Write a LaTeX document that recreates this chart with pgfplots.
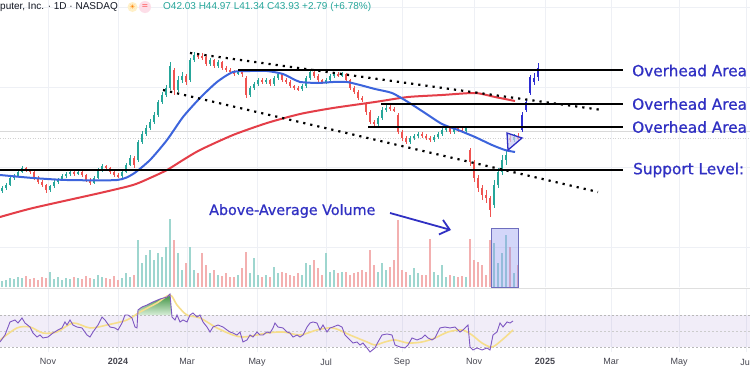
\documentclass[border=0pt]{standalone}
\usepackage{fontspec}
\setmainfont{Liberation Sans}
\newfontfamily\djv{DejaVu Sans}
\newfontfamily\annfont[FakeBold=0.8]{DejaVu Sans}
\usepackage{pgfplots}
\pgfplotsset{compat=1.18}
\usepackage{pgfplotstable}
\usetikzlibrary{arrows.meta}

\definecolor{upc}{RGB}{38,166,154}
\definecolor{dnc}{RGB}{239,83,80}
\definecolor{upv}{RGB}{158,214,207}
\definecolor{dnv}{RGB}{243,176,176}
\definecolor{projc}{RGB}{45,45,210}
\definecolor{mafast}{RGB}{60,100,220}
\definecolor{maslow}{RGB}{228,62,72}
\definecolor{anno}{RGB}{48,48,195}
\definecolor{rsic}{RGB}{126,87,194}
\definecolor{rsima}{RGB}{246,222,140}
\definecolor{gridc}{RGB}{238,240,245}
\definecolor{hdr}{RGB}{19,23,34}
\definecolor{sunbg}{RGB}{255,240,200}
\definecolor{pinkbg}{RGB}{253,222,232}
\definecolor{boxfill}{RGB}{130,140,240}
\definecolor{boxdraw}{RGB}{110,110,190}
\definecolor{trifill}{RGB}{205,205,245}
\definecolor{ticklab}{RGB}{70,70,80}
\definecolor{band}{RGB}{126,87,194}
\definecolor{greentop}{RGB}{56,142,60}
\definecolor{greenbot}{RGB}{215,238,215}

% up candles: x open high low close volume(M)
\pgfplotstableread{
x o h l c v
2 19.3 20.3 18.9 19.9 3
6 19.9 20.9 19.5 20.5 3.5
10 20.5 22.3 20.3 21.9 4.5
14 21.9 22.7 21.5 22.3 4
18 22.3 23.5 22.1 23.1 5
22 23.1 24.3 22.9 23.9 4.5
50 19.5 20.5 19.1 20.3 7.5
54 20.3 21.5 19.9 21.1 4
58 21.1 21.9 20.7 21.5 5
62 21.5 22.7 21.3 22.3 3.5
66 22.3 23.1 21.9 22.7 4.5
70 22.7 23.5 22.3 23.1 4
78 22.7 23.5 22.5 23.1 4.5
94 20.9 22.3 20.7 21.9 4
98 21.9 23.9 21.7 23.5 6
102 23.5 24.7 23.1 24.3 5
122 22.3 23.5 21.9 23.1 4.5
126 23.1 24.9 22.9 24.5 7
130 24.5 26.5 24.3 25.9 5
138 25.5 29.5 25.1 29.1 23.5
142 29.1 31.3 28.7 30.7 12
146 30.7 32.5 30.3 31.9 16
150 31.9 33.7 31.5 33.1 18.5
154 33.1 35.1 32.7 34.5 13.5
158 34.5 37.5 34.1 37.1 17
162 37.1 39.1 36.7 38.5 15
166 38.5 40.5 38.1 39.9 20
170 39.9 45.1 39.5 44.3 34
178 39.5 42.3 39.1 41.5 17
182 41.5 43.1 40.9 42.3 8.5
190 41.5 45.9 41.1 45.5 20
194 45.5 47.1 45.1 46.5 8.5
210 44.7 45.9 44.3 45.5 7
218 44.3 45.5 43.9 45.1 6
238 42.7 43.5 42.5 43.1 6
250 38.5 40.3 38.1 39.9 7
254 39.9 41.1 39.5 40.7 14.5
258 40.7 41.9 40.3 41.5 6
266 41.1 41.9 40.7 41.5 6
274 40.7 42.3 40.3 41.9 10
278 41.9 43.1 41.5 42.7 7
302 39.7 40.7 39.3 40.3 6
306 40.3 42.3 39.9 41.9 12
310 41.9 43.5 41.5 43.1 11
326 41.1 41.9 40.7 41.5 17
330 41.5 42.7 41.1 42.3 7.5
334 42.3 43.1 41.9 42.7 8.5
342 42.5 43.1 42.1 42.7 7.5
378 32.7 34.3 32.3 33.9 7.5
382 33.9 36.1 33.5 35.5 12
386 35.5 36.5 35.1 35.9 8.5
410 29.1 30.3 28.7 29.9 6
414 29.9 30.7 29.5 30.3 9.5
418 30.3 31.1 29.9 30.7 7
434 29.5 30.5 29.1 30.1 7.5
438 30.1 31.1 29.7 30.7 6
442 30.7 31.9 30.3 31.5 11
446 31.5 32.3 31.1 31.9 5
454 31.1 32.3 30.7 31.9 5.5
466 31.3 32.3 30.9 31.9 5
494 16.5 21.5 15.9 20.5 22
498 20.5 23.9 19.9 23.1 12
502 23.1 26.5 22.5 25.5 17
506 25.5 27.5 24.5 26.5 26
514 29.5 30.7 29.1 30.1 7
}\upT

% down candles
\pgfplotstableread{
x o h l c v
26 23.9 24.1 23.1 23.5 5.5
30 23.5 23.7 22.7 23.1 4
34 23.1 23.3 21.5 21.9 4.5
38 21.9 22.3 20.7 21.1 3.5
42 21.1 21.5 20.1 20.5 5
46 20.5 20.7 18.9 19.5 4.5
74 23.1 23.3 22.3 22.7 5
82 23.1 23.3 22.1 22.5 4
86 22.5 22.7 21.1 21.5 5.5
90 21.5 21.9 20.5 20.9 4.5
106 24.3 24.5 23.5 23.9 4.5
110 23.9 24.1 22.7 23.1 4
114 23.1 23.5 22.1 22.5 5.5
118 22.5 22.9 21.9 22.3 3.5
134 25.9 26.3 23.9 24.5 6
174 43.5 43.9 38.5 39.5 23.5
186 42.3 42.7 40.5 41.1 12
198 46.5 46.9 45.7 46.3 7
202 46.3 46.9 45.5 46.1 17
206 46.1 46.5 44.3 44.7 11
214 45.5 45.7 43.9 44.3 8.5
222 45.1 45.3 43.5 43.9 5.5
226 43.9 44.3 43.1 43.5 7
230 43.5 43.9 42.7 43.1 5
234 43.1 43.5 42.3 42.7 5
242 43.1 43.5 42.1 42.7 9.5
246 41.9 42.3 37.9 38.5 17.5
262 41.5 41.9 40.7 41.1 5
270 41.5 41.7 40.3 40.7 5
282 42.7 42.9 41.1 41.5 7.5
286 41.5 41.9 40.7 41.1 7
290 41.1 41.5 39.9 40.3 6
294 40.3 40.5 39.5 39.9 5.5
298 39.9 40.3 39.3 39.7 7
314 43.1 43.5 41.9 42.3 13.5
318 42.3 42.7 41.1 41.5 9.5
322 41.5 41.7 40.7 41.1 6
338 42.7 43.1 42.1 42.5 7
346 42.7 42.9 41.1 41.5 7.5
350 41.5 41.7 39.5 39.9 6
354 39.9 40.3 38.7 39.1 7
358 39.1 39.5 37.5 37.9 7.5
362 37.9 38.3 37.1 37.5 8.5
366 36.7 37.1 34.5 35.1 7.5
370 35.1 35.5 32.7 33.1 18.5
374 33.1 33.5 32.3 32.7 11
390 36.1 36.5 35.3 35.7 10
394 35.7 36.1 35.1 35.5 13.5
398 34.5 34.9 30.7 31.1 33.5
402 31.1 31.5 29.3 29.9 8.5
406 29.9 30.3 28.7 29.1 7.5
422 30.7 31.1 29.9 30.3 6
426 30.3 30.7 29.5 29.9 6
430 29.9 30.3 29.1 29.5 24
450 31.9 32.1 30.7 31.1 6
458 31.9 32.3 31.1 31.5 5
462 31.5 31.9 30.9 31.3 5.5
470 27.5 27.9 24.3 25.1 24
474 25.1 25.5 21.1 21.9 13.5
478 21.9 22.5 19.1 19.9 12.5
482 19.9 20.5 17.5 18.5 11
486 18.5 19.5 16.9 17.9 6
490 17.9 18.3 14.1 15.5 23.5
510 29.9 30.5 29.1 29.5 20
518 30.1 30.9 29.3 29.7 11
}\dnT

% projected bars (blue)
\pgfplotstableread{
x o h l c
522 31.5 35.1 31.1 34.5
526 35.5 37.7 35.1 37.1
530 38.9 42.5 38.5 42.1
534 42.0 42.9 40.6 41.14
538 42.03 44.97 41.34 43.93
}\projT

\pgfplotsset{
  wick/.style={draw=none, mark=none, forget plot, error bars/.cd, y dir=both, y explicit, error mark=none, error bar style={draw=#1, line width=0.8pt}},
  body/.style={draw=none, mark=none, forget plot, error bars/.cd, y dir=both, y explicit, error mark=none, error bar style={draw=#1, line width=2.4pt}},
  pane/.style={scale only axis, xmin=0, xmax=750, axis line style={draw=none}, tick style={draw=none}, clip=false},
}

\begin{document}
\begin{tikzpicture}
\useasboundingbox (0pt,0pt) rectangle (750pt,-375pt);
\clip (0pt,0pt) rectangle (750pt,-375pt);
\fill[white] (0pt,0pt) rectangle (750pt,-375pt);

% ---------- volume pane (background, with grid) ----------
\begin{axis}[pane, at={(0pt,0pt)}, anchor=north west, width=750pt, height=287pt,
  ymin=0, ymax=143.5,
  xtick={48,118,187,257,326,402,474,545,611,679,746}, xticklabels={},
  ytick={20,60,100,140}, yticklabels={},
  grid=major, major grid style={draw=gridc, line width=0.7pt}]
\addplot[ycomb, draw=upv, line width=2.2pt, mark=none] table[x=x,y=v] {\upT};
\addplot[ycomb, draw=dnv, line width=2.2pt, mark=none] table[x=x,y=v] {\dnT};
\addplot[fill=boxfill, fill opacity=0.35, draw=boxdraw, line width=0.8pt] coordinates {(491,0) (491,29.5) (518,29.5) (518,0)} -- cycle;
\end{axis}

% ---------- price pane ----------
\begin{axis}[pane, at={(0pt,0pt)}, anchor=north west, width=750pt, height=287pt,
  ymin=0.1, ymax=57.5, xtick=\empty, ytick=\empty]
% faint price lines
\addplot[gray!30, line width=0.5pt] coordinates {(0,31.3) (750,31.3)};
\addplot[gray!35, line width=0.5pt, dotted] coordinates {(0,29.9) (750,29.9)};
% candles
\addplot[wick=upc] table[x=x, y expr={(\thisrow{h}+\thisrow{l})/2}, y error expr={(\thisrow{h}-\thisrow{l})/2}] {\upT};
\addplot[body=upc] table[x=x, y expr={(\thisrow{o}+\thisrow{c})/2}, y error expr={abs(\thisrow{c}-\thisrow{o})/2}] {\upT};
\addplot[wick=dnc] table[x=x, y expr={(\thisrow{h}+\thisrow{l})/2}, y error expr={(\thisrow{h}-\thisrow{l})/2}] {\dnT};
\addplot[body=dnc] table[x=x, y expr={(\thisrow{o}+\thisrow{c})/2}, y error expr={abs(\thisrow{c}-\thisrow{o})/2}] {\dnT};
\addplot[wick=projc] table[x=x, y expr={(\thisrow{h}+\thisrow{l})/2}, y error expr={(\thisrow{h}-\thisrow{l})/2}] {\projT};
\addplot[body=projc] table[x=x, y expr={(\thisrow{o}+\thisrow{c})/2}, y error expr={abs(\thisrow{c}-\thisrow{o})/2}] {\projT};
% moving averages
\addplot[maslow, line width=2pt, smooth, tension=0.4, mark=none] coordinates {
(0,14.1) (33,15.9) (100,18.9) (133,20.5) (150,21.9) (167,23.5) (183,25.5) (200,27.5)
(233,30.5) (267,32.9) (300,34.7) (333,35.9) (375,37.1) (408,38.1) (442,38.5) (475,38.9)
(495,38.1) (515,37.3)};
\addplot[mafast, line width=2pt, smooth, tension=0.4, mark=none] coordinates {
(0,22.5) (33,21.9) (67,21.5) (117,21.5) (133,22.7) (150,25.5) (167,29.5) (183,34.1)
(200,37.9) (217,41.1) (233,43.1) (250,43.3) (267,43.3) (283,42.7) (295,41.5) (300,41.1)
(317,40.9) (333,41.1) (347,41.1) (360,40.5) (375,39.7) (392,38.9) (408,37.1) (425,34.9)
(442,32.7) (458,31.5) (475,30.1) (492,28.5) (505,27.5) (515,27.1)};
% dotted trend lines
\addplot[black, line width=2.2pt, dash pattern=on 2.2pt off 5pt] coordinates {(190,46.9) (602,35.5)};
\addplot[black, line width=2.2pt, dash pattern=on 2.2pt off 5pt] coordinates {(163,39.5) (598,19.1)};
% horizontal levels
\addplot[black, line width=1.8pt] coordinates {(0,23.5) (623,23.5)};
\addplot[black, line width=1.8pt] coordinates {(368,32.1) (623,32.1)};
\addplot[black, line width=1.8pt] coordinates {(381,36.7) (623,36.7)};
\addplot[black, line width=1.8pt] coordinates {(238,43.5) (623,43.5)};
% triangle pattern
\addplot[fill=trifill, fill opacity=0.7, draw=anno, line width=1.3pt] coordinates {(507,30.9) (508,27.5) (522,29.9)} -- cycle;
% labels
\node[anchor=west, inner sep=0pt, text=anno, font=\annfont\fontsize{15.3}{16}\selectfont] at (axis cs:632,43.4) {Overhead Area 3};
\node[anchor=west, inner sep=0pt, text=anno, font=\annfont\fontsize{15.3}{16}\selectfont] at (axis cs:632,36.7) {Overhead Area 2};
\node[anchor=west, inner sep=0pt, text=anno, font=\annfont\fontsize{15.3}{16}\selectfont] at (axis cs:632,32.1) {Overhead Area 1};
\node[anchor=west, inner sep=0pt, text=anno, font=\annfont\fontsize{15.3}{16}\selectfont] at (axis cs:633,23.5) {Support Level: \$};
\node[anchor=west, inner sep=0pt, text=anno, font=\annfont\fontsize{14.3}{15}\selectfont] at (axis cs:209,15.3) {Above-Average Volume};
\draw[anno, line width=1.8pt, -{Straight Barb[length=9pt,width=15pt]}] (axis cs:390,14.9) -- (axis cs:451,11.5);
% header
\node[anchor=west, inner sep=0pt, text=hdr, font=\fontsize{10}{12}\selectfont] at (axis cs:0,56.1) {puter, Inc. · 1D · NASDAQ};
\node[circle, fill=sunbg, inner sep=0pt, minimum size=10pt] at (axis cs:132.5,56.1) {\djv\fontsize{7}{7}\selectfont\textcolor{orange}{☀}};
\node[circle, fill=pinkbg, inner sep=0pt, minimum size=12pt] at (axis cs:145,56.1) {\djv\fontsize{8}{8}\selectfont\textcolor{red!70}{=}};
\node[anchor=west, inner sep=0pt, text=upc, font=\fontsize{10}{12}\selectfont] at (axis cs:163,56.1) {O42.03 H44.97 L41.34 C43.93 +2.79 (+6.78\%)};
\end{axis}

% ---------- RSI pane ----------
\begin{axis}[pane, at={(0pt,-288pt)}, anchor=north west, width=750pt, height=64pt,
  ymin=23.75, ymax=103.75, ytick=\empty,
  xtick={48,118,187,257,326,402,474,545,611,679,746},
  xticklabels={Nov,\textbf{2024},Mar,May,Jul,Sep,Nov,\textbf{2025},Mar,May,Jul},
  xticklabel style={font=\fontsize{9}{10}\selectfont, text=ticklab, yshift=-3pt},
  xmajorgrids, major grid style={draw=gridc, line width=0.7pt}]
\draw[gray!25, line width=0.6pt] (rel axis cs:0,1) -- (rel axis cs:1,1);
\addplot[fill=band, fill opacity=0.1, draw=none] coordinates {(0,30) (750,30) (750,70) (0,70)} -- cycle;
\addplot[gray!55, line width=0.6pt, dash pattern=on 2pt off 2pt] coordinates {(0,70) (750,70)};
\addplot[gray!40, line width=0.6pt, dash pattern=on 2pt off 2pt] coordinates {(0,50) (750,50)};
\addplot[gray!55, line width=0.6pt, dash pattern=on 2pt off 2pt] coordinates {(0,30) (750,30)};
\addplot[draw=none, top color=greentop, bottom color=greenbot] coordinates {
(137.6,70) (138,76.3) (142,80) (147,82.5) (153,86.3) (160,90) (167,92.5) (170,96.3) (171.8,70)} -- cycle;
\addplot[rsima, line width=1.6pt, smooth, tension=0.5, mark=none] coordinates {
(0,38.8) (17,53.8) (30,55) (43,47.5) (57,48.8) (73,60) (90,53.8) (107,57.5) (127,63.8)
(140,73.8) (157,85) (170,95) (177,82.5) (187,70) (200,66.3) (217,53.8) (233,45) (243,42.5)
(257,45) (267,47.5) (283,48.8) (300,45) (317,51.3) (333,53.8) (350,45) (367,36.3) (375,32.5)
(385,36.3) (395,38.8) (408,35) (422,36.3) (435,41.3) (448,48.8) (462,51.3) (472,45)
(482,35) (492,30) (502,38.8) (513,51.3)};
\addplot[rsic, line width=0.9pt, mark=none] coordinates {
(0,36.3) (5,45) (10,61.3) (15,63.8) (18,60) (22,66.3) (25,60) (30,55) (33,47.5) (37,42.5)
(40,45) (43,41.3) (48,42.5) (53,47.5) (58,51.3) (62,53.8) (65,61.3) (67,57.5) (70,63.8)
(73,57.5) (77,55) (82,53.8) (87,45) (90,42.5) (93,48.8) (98,57.5) (102,67.5) (105,63.8)
(110,55) (115,53.8) (118,51.3) (122,60) (125,70) (128,70) (132,66.3) (135,55) (137,53.8)
(138,76.3) (142,80) (147,82.5) (153,86.3) (160,90) (167,92.5) (170,96.3) (172,67.5)
(175,63.8) (177,70) (180,61.3) (183,63.8) (187,61.3) (190,70) (193,72.5) (197,67.5)
(200,70) (203,61.3) (207,55) (210,48.8) (213,55) (218,57.5) (223,55) (227,51.3) (230,48.8)
(233,47.5) (237,45) (240,48.8) (243,36.3) (247,38.8) (250,45) (253,42.5) (257,48.8)
(260,45) (263,45) (267,48.8) (270,47.5) (273,53.8) (275,60) (278,55) (283,53.8) (287,48.8)
(290,47.5) (293,42.5) (297,45) (300,42.5) (303,45) (307,55) (310,60) (313,61.3) (317,60)
(320,51.3) (323,57.5) (327,48.8) (330,53.8) (333,55) (338,57.5) (342,55) (345,45)
(348,41.3) (353,35) (357,36.3) (360,32.5) (363,35) (367,28.8) (370,23.8) (375,28.8)
(378,36.3) (382,45) (387,46.3) (392,45) (395,32.5) (400,30) (405,28.8) (408,32.5)
(412,41.3) (417,38.8) (422,41.3) (425,45) (428,41.3) (432,38.8) (435,41.3) (440,53.8)
(445,55) (450,53.8) (455,55) (460,48.8) (463,51.3) (468,57.5) (470,30) (473,26.3)
(477,28.8) (482,26.3) (487,28.8) (490,26.3) (493,45) (497,48.8) (500,60) (503,55)
(507,61.3) (510,60) (513,62.5)};
\end{axis}
\end{tikzpicture}
\end{document}
